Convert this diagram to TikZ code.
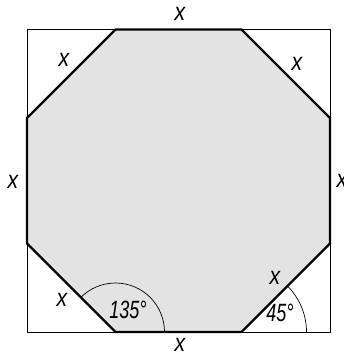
\documentclass[tikz,border=0pt]{standalone}
\usepackage{fontspec}
\setmainfont{Liberation Sans}
\begin{document}
\begin{tikzpicture}[x=1pt,y=-1pt,
  lbl/.style={inner sep=0pt, font=\fontsize{25}{25}\selectfont\itshape},
  sq/.style={draw=black, line width=0.9pt},
  oct/.style={draw=black, line width=2.3pt, fill=black!11, line join=miter},
  ang/.style={draw=black, line width=0.7pt}]
\useasboundingbox (0,0) rectangle (344,356);
% square
\coordinate (S1) at (27,29.5);
\coordinate (S3) at (330,332);
\draw[sq] (S1) rectangle (S3);
% octagon vertices
\coordinate (A) at (115.5,29.5);
\coordinate (B) at (241.5,29.5);
\coordinate (C) at (330,118);
\coordinate (D) at (330,243.5);
\coordinate (E) at (241.5,332);
\coordinate (F) at (115.5,332);
\coordinate (G) at (27,243.5);
\coordinate (H) at (27,118);
\draw[oct] (A) -- (B) -- (C) -- (D) -- (E) -- (F) -- (G) -- (H) -- cycle;
% angle arcs
\draw[ang] ([xshift=49pt]F) arc[start angle=0, end angle=135, radius=49pt];
\draw[ang] ([xshift=65pt]E) arc[start angle=0, end angle=45, radius=65pt];
% labels
\node[lbl] (xt) at (180,14) {\scalebox{0.85}[1]{x}};
\node[lbl] (xb) at (180,344.5) {\scalebox{0.85}[1]{x}};
\node[lbl] (xl) at (13,182) {\scalebox{0.85}[1]{x}};
\node[lbl] (xr) at (342,181) {\scalebox{0.85}[1]{x}};
\node[lbl] (xul) at (64,60) {\scalebox{0.85}[1]{x}};
\node[lbl] (xur) at (297,64) {\scalebox{0.85}[1]{x}};
\node[lbl] (xll) at (62,300) {\scalebox{0.85}[1]{x}};
\node[lbl] (xlr) at (275,278) {\scalebox{0.85}[1]{x}};
\node[lbl] (a135) at (128,310) {\scalebox{0.72}[1]{135°}};
\node[lbl] (a45) at (280,313) {\scalebox{0.72}[1]{45°}};
\end{tikzpicture}
\end{document}
